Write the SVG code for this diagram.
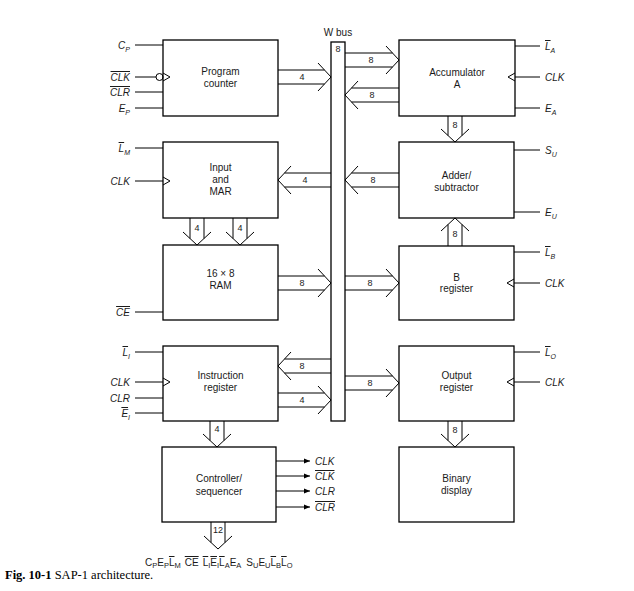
<svg xmlns="http://www.w3.org/2000/svg" width="634" height="591" viewBox="0 0 634 591">
<defs>
<style>
.box{fill:#fff;stroke:#000;stroke-width:1.3}
.ln{fill:none;stroke:#000;stroke-width:1}
.ar{fill:none;stroke:#000;stroke-width:1}
.t{font-family:"Liberation Sans",Arial,sans-serif;font-size:10px;text-anchor:middle;fill:#1a1a1a}
.n{font-family:"Liberation Sans",Arial,sans-serif;font-size:9px;text-anchor:middle;fill:#1a1a1a}
.s{font-family:"Liberation Sans",Arial,sans-serif;font-size:10px;font-style:italic;fill:#1a1a1a}
.sub{font-size:7px}
.ov{text-decoration:overline}
.cap{font-family:"Liberation Serif","Times New Roman",serif;font-size:12.5px;fill:#000}
</style>
<marker id="ah" viewBox="0 0 10 10" refX="10" refY="5" markerWidth="6" markerHeight="6" orient="auto"><path d="M0,1 L10,5 L0,9 z" fill="#000"/></marker>
</defs>
<rect width="634" height="591" fill="#fff"/>

<g id="bus">
<rect class="box" x="331" y="42" width="14" height="379"/>
<text class="t" x="338" y="36">W bus</text>
<text class="n" x="338" y="52">8</text>
</g>

<g id="program-counter">
<rect class="box" x="163" y="40" width="115" height="76"/>
<text class="t" x="220.5" y="75">Program</text>
<text class="t" x="220.5" y="87">counter</text>
<line class="ln" x1="135" y1="45" x2="163" y2="45"/>
<line class="ln" x1="135" y1="77" x2="156" y2="77"/>
<circle class="ln" cx="159.5" cy="77" r="3.5"/>
<path class="ln" d="M163,73 L170,77 L163,81"/>
<line class="ln" x1="135" y1="92" x2="163" y2="92"/>
<line class="ln" x1="135" y1="108" x2="163" y2="108"/>
<text class="s" x="130" y="49" text-anchor="end">C<tspan class="sub" dy="3">P</tspan></text>
<text class="s" x="130" y="81" text-anchor="end"><tspan class="ov">CLK</tspan></text>
<text class="s" x="130" y="96" text-anchor="end"><tspan class="ov">CLR</tspan></text>
<text class="s" x="130" y="112" text-anchor="end">E<tspan class="sub" dy="3">P</tspan></text>
</g>

<g id="mar">
<rect class="box" x="163" y="142" width="115" height="76"/>
<text class="t" x="220.5" y="171">Input</text>
<text class="t" x="220.5" y="183">and</text>
<text class="t" x="220.5" y="195">MAR</text>
<line class="ln" x1="135" y1="148" x2="163" y2="148"/>
<line class="ln" x1="135" y1="181" x2="163" y2="181"/>
<path class="ln" d="M163,177 L170,181 L163,185"/>
<text class="s" x="130" y="152" text-anchor="end"><tspan class="ov">L</tspan><tspan class="sub" dy="3">M</tspan></text>
<text class="s" x="130" y="185" text-anchor="end">CLK</text>
</g>

<g id="ram">
<rect class="box" x="163" y="245" width="115" height="75"/>
<text class="t" x="220.5" y="277">16 × 8</text>
<text class="t" x="220.5" y="289">RAM</text>
<line class="ln" x1="135" y1="312" x2="163" y2="312"/>
<text class="s" x="130" y="316" text-anchor="end"><tspan class="ov">CE</tspan></text>
</g>

<g id="instruction-register">
<rect class="box" x="163" y="346" width="115" height="75"/>
<text class="t" x="220.5" y="379">Instruction</text>
<text class="t" x="220.5" y="391">register</text>
<line class="ln" x1="135" y1="352" x2="163" y2="352"/>
<line class="ln" x1="135" y1="382" x2="163" y2="382"/>
<path class="ln" d="M163,378 L170,382 L163,386"/>
<line class="ln" x1="135" y1="398" x2="163" y2="398"/>
<line class="ln" x1="135" y1="413" x2="163" y2="413"/>
<text class="s" x="130" y="356" text-anchor="end"><tspan class="ov">L</tspan><tspan class="sub" dy="3">I</tspan></text>
<text class="s" x="130" y="386" text-anchor="end">CLK</text>
<text class="s" x="130" y="402" text-anchor="end">CLR</text>
<text class="s" x="130" y="417" text-anchor="end"><tspan class="ov">E</tspan><tspan class="sub" dy="3">I</tspan></text>
</g>

<g id="controller">
<rect class="box" x="162" y="447" width="114" height="75"/>
<text class="t" x="219" y="482">Controller/</text>
<text class="t" x="219" y="495">sequencer</text>
<line class="ln" x1="276" y1="461" x2="310" y2="461" marker-end="url(#ah)"/>
<line class="ln" x1="276" y1="476" x2="310" y2="476" marker-end="url(#ah)"/>
<line class="ln" x1="276" y1="491" x2="310" y2="491" marker-end="url(#ah)"/>
<line class="ln" x1="276" y1="507" x2="310" y2="507" marker-end="url(#ah)"/>
<text class="s" x="315" y="465">CLK</text>
<text class="s" x="315" y="480"><tspan class="ov">CLK</tspan></text>
<text class="s" x="315" y="495">CLR</text>
<text class="s" x="315" y="511"><tspan class="ov">CLR</tspan></text>
</g>

<g id="accumulator">
<rect class="box" x="399" y="40" width="116" height="76"/>
<text class="t" x="457" y="76">Accumulator</text>
<text class="t" x="457" y="88">A</text>
<line class="ln" x1="515" y1="46" x2="540" y2="46"/>
<line class="ln" x1="515" y1="77" x2="540" y2="77"/>
<path class="ln" d="M515,73 L508,77 L515,81"/>
<line class="ln" x1="515" y1="108" x2="540" y2="108"/>
<text class="s" x="545" y="50"><tspan class="ov">L</tspan><tspan class="sub" dy="3">A</tspan></text>
<text class="s" x="545" y="81">CLK</text>
<text class="s" x="545" y="112">E<tspan class="sub" dy="3">A</tspan></text>
</g>

<g id="adder">
<rect class="box" x="399" y="142" width="115" height="76"/>
<text class="t" x="456.5" y="179">Adder/</text>
<text class="t" x="456.5" y="191">subtractor</text>
<line class="ln" x1="514" y1="150" x2="540" y2="150"/>
<line class="ln" x1="514" y1="212" x2="540" y2="212"/>
<text class="s" x="545" y="154">S<tspan class="sub" dy="3">U</tspan></text>
<text class="s" x="545" y="216">E<tspan class="sub" dy="3">U</tspan></text>
</g>

<g id="b-register">
<rect class="box" x="399" y="246" width="115" height="74"/>
<text class="t" x="456.5" y="281">B</text>
<text class="t" x="456.5" y="292">register</text>
<line class="ln" x1="514" y1="252" x2="540" y2="252"/>
<line class="ln" x1="514" y1="283" x2="540" y2="283"/>
<path class="ln" d="M514,279 L507,283 L514,287"/>
<text class="s" x="545" y="256"><tspan class="ov">L</tspan><tspan class="sub" dy="3">B</tspan></text>
<text class="s" x="545" y="287">CLK</text>
</g>

<g id="output-register">
<rect class="box" x="399" y="346" width="115" height="75"/>
<text class="t" x="456.5" y="379">Output</text>
<text class="t" x="456.5" y="391">register</text>
<line class="ln" x1="514" y1="352" x2="540" y2="352"/>
<line class="ln" x1="514" y1="382" x2="540" y2="382"/>
<path class="ln" d="M514,378 L507,382 L514,386"/>
<text class="s" x="545" y="356"><tspan class="ov">L</tspan><tspan class="sub" dy="3">O</tspan></text>
<text class="s" x="545" y="386">CLK</text>
</g>

<g id="binary-display">
<rect class="box" x="399" y="447" width="115" height="75"/>
<text class="t" x="456.5" y="482">Binary</text>
<text class="t" x="456.5" y="494">display</text>
</g>

<g id="connectors">
<path class="ar" d="M278,70 H324.5 M278,84 H324.5 M318,63 L331,77 L318,91"/>
<text class="n" x="302" y="80">4</text>
<path class="ar" d="M345,53 H392.5 M345,67 H392.5 M386,46 L399,60 L386,74"/>
<text class="n" x="371" y="63">8</text>
<path class="ar" d="M399,88 H351.5 M399,102 H351.5 M358,81 L345,95 L358,109"/>
<text class="n" x="372" y="98">8</text>
<path class="ar" d="M331,173 H284.5 M331,187 H284.5 M291,166 L278,180 L291,194"/>
<text class="n" x="305" y="183">4</text>
<path class="ar" d="M399,173 H351.5 M399,187 H351.5 M358,166 L345,180 L358,194"/>
<text class="n" x="373" y="183">8</text>
<path class="ar" d="M448,116 V135.5 M462,116 V135.5 M441,129 L455,142 L469,129"/>
<text class="n" x="455" y="128">8</text>
<path class="ar" d="M190,218 V238.5 M204,218 V238.5 M183,232 L197,245 L211,232"/>
<text class="n" x="197" y="231">4</text>
<path class="ar" d="M233,218 V238.5 M247,218 V238.5 M226,232 L240,245 L254,232"/>
<text class="n" x="240" y="231">4</text>
<path class="ar" d="M448,246 V224.5 M462,246 V224.5 M441,231 L455,218 L469,231"/>
<text class="n" x="455" y="237">8</text>
<path class="ar" d="M278,276 H324.5 M278,290 H324.5 M318,269 L331,283 L318,297"/>
<text class="n" x="302" y="286">8</text>
<path class="ar" d="M345,276 H392.5 M345,290 H392.5 M386,269 L399,283 L386,297"/>
<text class="n" x="370" y="286">8</text>
<path class="ar" d="M331,359 H284.5 M331,373 H284.5 M291,352 L278,366 L291,380"/>
<text class="n" x="302" y="369">8</text>
<path class="ar" d="M278,393 H324.5 M278,407 H324.5 M318,386 L331,400 L318,414"/>
<text class="n" x="302" y="403">4</text>
<path class="ar" d="M345,376 H392.5 M345,390 H392.5 M386,369 L399,383 L386,397"/>
<text class="n" x="370" y="386">8</text>
<path class="ar" d="M210,421 V440.5 M224,421 V440.5 M203,434 L217,447 L231,434"/>
<text class="n" x="217" y="432">4</text>
<path class="ar" d="M448,421 V440.5 M462,421 V440.5 M441,434 L455,447 L469,434"/>
<text class="n" x="455" y="433">8</text>
<path class="ar" d="M211,522 V542.5 M225,522 V542.5 M204,536 L218,549 L232,536"/>
<text class="n" x="218" y="533">12</text>
</g>

<g id="control-word">
<text font-family="Liberation Sans, Arial, sans-serif" font-size="10" fill="#1a1a1a" x="145" y="566">C<tspan font-size="7.5" dy="2">P</tspan><tspan dy="-2">E</tspan><tspan font-size="7.5" dy="2">P</tspan><tspan dy="-2" class="ov">L</tspan><tspan font-size="7.5" dy="2">M</tspan><tspan dy="-2" dx="4" class="ov">CE</tspan><tspan dx="4" class="ov">L</tspan><tspan font-size="7.5" dy="2">I</tspan><tspan dy="-2" class="ov">E</tspan><tspan font-size="7.5" dy="2">I</tspan><tspan dy="-2" class="ov">L</tspan><tspan font-size="7.5" dy="2">A</tspan><tspan dy="-2">E</tspan><tspan font-size="7.5" dy="2">A</tspan><tspan dy="-2" dx="5">S</tspan><tspan font-size="7.5" dy="2">U</tspan><tspan dy="-2">E</tspan><tspan font-size="7.5" dy="2">U</tspan><tspan dy="-2" class="ov">L</tspan><tspan font-size="7.5" dy="2">B</tspan><tspan dy="-2" class="ov">L</tspan><tspan font-size="7.5" dy="2">O</tspan></text>
</g>

<g id="caption">
<text class="cap" x="5" y="579"><tspan font-weight="bold">Fig. 10-1</tspan> SAP-1 architecture.</text>
</g>
</svg>
